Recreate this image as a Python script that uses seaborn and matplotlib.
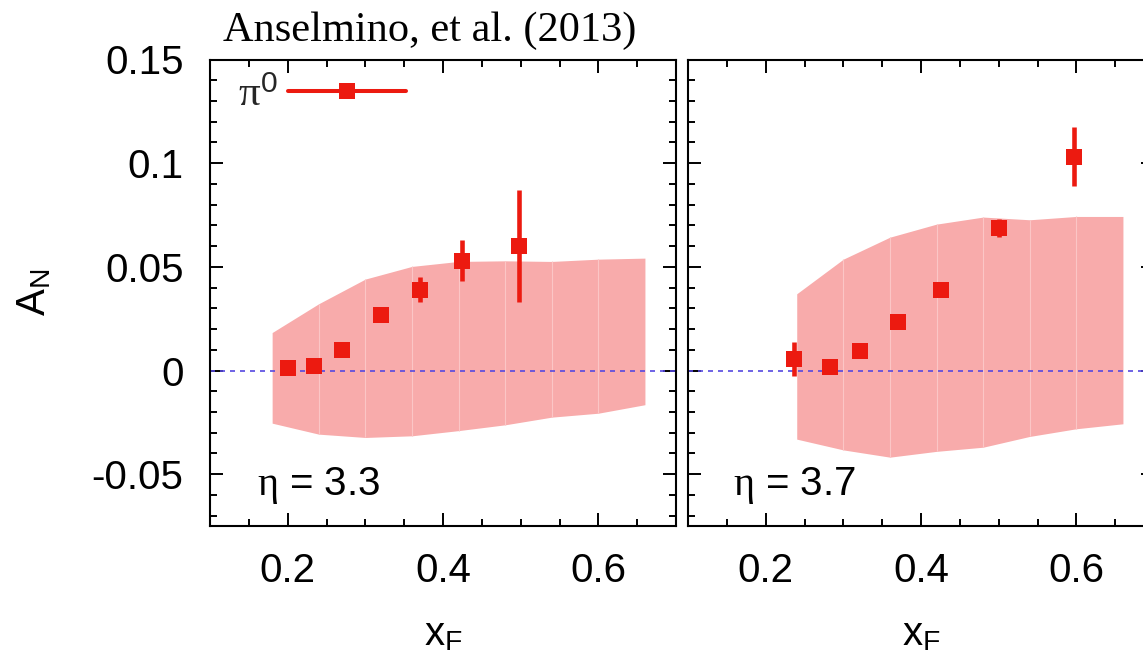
import numpy as np
import pandas as pd
import matplotlib
matplotlib.use("Agg")
import matplotlib.pyplot as plt
import seaborn as sns
from matplotlib.lines import Line2D
from matplotlib.ticker import MultipleLocator, FuncFormatter

# ---------------- data ----------------
xf_eta33 = [0.200, 0.234, 0.270, 0.320, 0.370, 0.425, 0.498]
an_eta33 = [0.001, 0.002, 0.010, 0.027, 0.039, 0.053, 0.060]
err_eta33 = [0.002, 0.002, 0.002, 0.002, 0.006, 0.010, 0.027]

xf_eta37 = [0.236, 0.283, 0.321, 0.371, 0.426, 0.500, 0.597]
an_eta37 = [0.0056, 0.0019, 0.0092, 0.0236, 0.0386, 0.0687, 0.1032]
err_eta37 = [0.0083, 0.002, 0.002, 0.002, 0.002, 0.0045, 0.0143]

band_x33 = [0.18, 0.24, 0.30, 0.36, 0.42, 0.48, 0.54, 0.60, 0.66]
band_lo33 = [-0.0254, -0.0307, -0.0323, -0.0315, -0.0290, -0.0262, -0.0225, -0.0206, -0.0165]
band_hi33 = [0.0183, 0.0322, 0.0441, 0.0502, 0.0526, 0.0529, 0.0526, 0.0537, 0.0542]

band_x37 = [0.24, 0.30, 0.36, 0.42, 0.48, 0.54, 0.60, 0.66]
band_lo37 = [-0.0331, -0.0383, -0.0418, -0.0390, -0.0370, -0.0318, -0.0281, -0.0257]
band_hi37 = [0.0370, 0.0537, 0.0643, 0.0706, 0.0740, 0.0727, 0.0743, 0.0743]

panel_labels = [r"$\mathcal{\eta}$ = 3.3", r"$\mathcal{\eta}$ = 3.7"]
title_text = "Anselmino, et al. (2013)"
legend_label = r"$\mathcal{\pi}^{\mathrm{0}}$"
x_ticks = [0.2, 0.4, 0.6]
y_ticks = [-0.05, 0, 0.05, 0.1, 0.15]

# ---------------- style ----------------
sns.set_theme(style="ticks")
plt.rcParams["font.family"] = ["Liberation Sans", "DejaVu Sans"]
plt.rcParams["mathtext.fontset"] = "custom"
plt.rcParams["mathtext.rm"] = "Liberation Sans"
plt.rcParams["mathtext.sf"] = "Liberation Sans"
plt.rcParams["mathtext.it"] = "Liberation Serif:italic"
plt.rcParams["mathtext.bf"] = "Liberation Sans:bold"
plt.rcParams["mathtext.cal"] = "Liberation Serif"
plt.rcParams["axes.unicode_minus"] = False

RED = "#ec1a10"
BAND = "#f8abab"
BAND_LINE = "#fbc6c6"
ZERO = "#5548e0"
FS = 29

W, H = 1143, 657
fig = plt.figure(figsize=(W / 100, H / 100), dpi=100)
bottom = 1 - 526 / H
height = 466.5 / H
axw = 466 / W
ax1 = fig.add_axes([210 / W, bottom, axw, height])
ax2 = fig.add_axes([688 / W, bottom, axw, height])

panels = [
    (ax1, xf_eta33, an_eta33, err_eta33, band_x33, band_lo33, band_hi33, panel_labels[0]),
    (ax2, xf_eta37, an_eta37, err_eta37, band_x37, band_lo37, band_hi37, panel_labels[1]),
]

for i, (ax, xs, ys, es, bx, blo, bhi, lab) in enumerate(panels):
    ax.fill_between(bx, blo, bhi, color=BAND, linewidth=0, zorder=1)
    ax.vlines(bx[1:-1], blo[1:-1], bhi[1:-1], color=BAND_LINE, lw=0.8, zorder=1.5)
    ax.axhline(0, color=ZERO, lw=1.2, ls=(0, (3, 3)), zorder=2)
    ax.errorbar(xs, ys, yerr=es, fmt="none", ecolor=RED, elinewidth=3.3, capsize=0, zorder=3)
    df = pd.DataFrame({"xF": xs, "AN": ys})
    sns.scatterplot(data=df, x="xF", y="AN", marker="s", s=118, color=RED,
                    linewidth=0, ax=ax, zorder=4, legend=False)

    ax.set_xlim(0.1, 0.7)
    ax.set_ylim(-0.075, 0.15)
    ax.xaxis.set_major_locator(plt.FixedLocator(x_ticks))
    ax.xaxis.set_minor_locator(MultipleLocator(0.05))
    ax.yaxis.set_major_locator(plt.FixedLocator(y_ticks))
    ax.yaxis.set_minor_locator(MultipleLocator(0.01))
    ax.xaxis.set_major_formatter(FuncFormatter(lambda v, p: "%g" % round(v, 3)))
    ax.yaxis.set_major_formatter(FuncFormatter(lambda v, p: "%g" % round(v, 3)))
    ax.tick_params(which="both", direction="in", top=True, right=True,
                   color="black", width=1.4, labelsize=FS, pad=19, labelcolor="black")
    ax.tick_params(which="major", length=9.5)
    ax.tick_params(which="minor", length=5)
    for sp in ax.spines.values():
        sp.set_linewidth(1.5)
        sp.set_color("black")
        sp.set_visible(True)
    ax.set_xlabel(r"x$_{\mathrm{F}}$", fontsize=FS, labelpad=18, color="black")
    ax.text(0.10 if i == 0 else 0.097, 0.0665, lab, transform=ax.transAxes,
            fontsize=FS, va="baseline", ha="left", color="black")

ax1.set_ylabel(r"A$_{\mathrm{N}}$", fontsize=FS, labelpad=28, color="black")
ax2.set_ylabel("")
ax2.tick_params(labelleft=False)

handle = Line2D([], [], color=RED, lw=2.9, marker="s", ms=11, mew=0)
ax1.legend(handles=[handle], labels=[legend_label], loc="center left",
           bbox_to_anchor=(27.5 / 466, 1 - 35.5 / 466.5), frameon=False,
           markerfirst=False, fontsize=FS + 2, handlelength=2.75, handletextpad=0.25,
           borderpad=0, borderaxespad=0, numpoints=1)

fig.text(223 / W, 1 - 40.7 / H, title_text, family="Liberation Serif",
         fontsize=30.5, ha="left", va="baseline", color="black")

fig.savefig("out.png", dpi=100)
